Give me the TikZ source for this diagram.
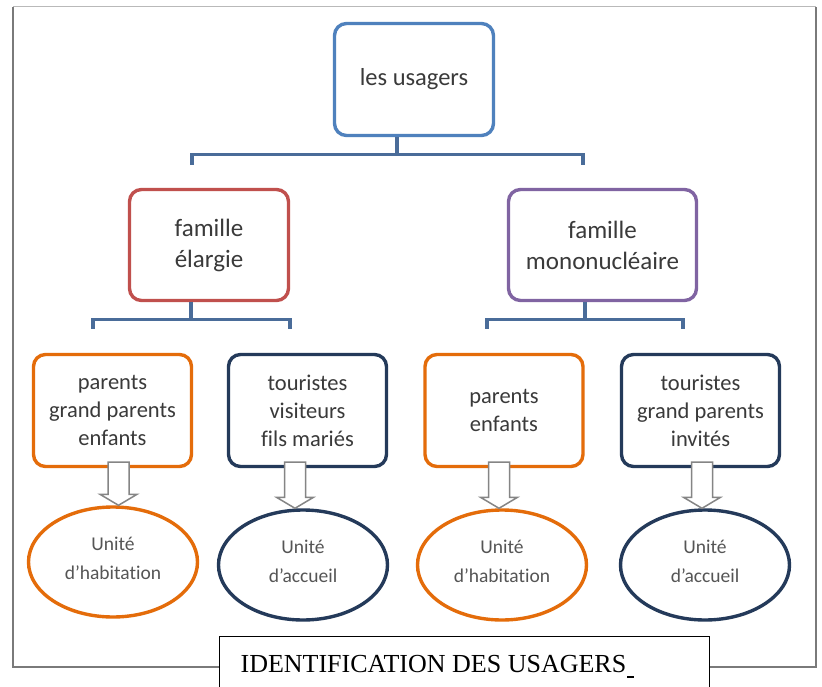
\documentclass[tikz,border=0pt]{standalone}
\usepackage{fontspec}
\setmainfont{Liberation Serif}
\newfontfamily\boxfont[Ligatures=NoCommon]{Carlito}
\usetikzlibrary{calc,shapes.geometric}

\definecolor{rootblue}{HTML}{4F81BD}
\definecolor{famred}{HTML}{C0504D}
\definecolor{fampurple}{HTML}{8064A2}
\definecolor{grporange}{HTML}{E46C0A}
\definecolor{grpnavy}{HTML}{243A5A}
\definecolor{linkblue}{HTML}{4A6C99}
\definecolor{boxtext}{HTML}{3A3A3A}
\definecolor{unittext}{HTML}{555555}
\definecolor{arrowgray}{HTML}{858585}
\definecolor{framegray}{HTML}{7A7A7A}

\tikzset{
  card/.style={draw, line width=3.4pt, rounded corners=12pt, fill=white,
    text=boxtext, align=center, inner sep=0pt},
  lvlone/.style={card, font=\boxfont\fontsize{24.5}{30}\selectfont},
  lvltwo/.style={card, font=\boxfont\fontsize{25}{31}\selectfont,
    minimum height=111pt},
  lvlthree/.style={card, font=\boxfont\fontsize{22.5}{28}\selectfont,
    minimum width=158pt, minimum height=112pt},
  unit/.style={ellipse, draw, line width=3.4pt, fill=white, text=unittext,
    align=center, inner sep=0pt, font=\boxfont\fontsize{19.5}{29.5}\selectfont,
    minimum width=169pt, minimum height=110pt},
  link/.style={draw=linkblue, line width=3.3pt},
  barrow/.style={draw=arrowgray, fill=white, line width=1.5pt, line join=miter},
  captionbox/.style={draw=black, line width=1.2pt, fill=white, anchor=north west,
    inner xsep=21pt, inner ysep=0pt, text height=36pt, text depth=24pt,
    font=\fontsize{26}{30}\selectfont}
}

% hollow block arrow from a box down to its unit ellipse
% #1 source node, #2 target node, #3 horizontal offset of the arrow axis
\newcommand\unitarrow[3]{%
  \path[barrow] let \p1=($(#1.south)+(#3,0)$), \p2=(#2.north) in
    (\x1-10.5pt,\y1+6pt) -- (\x1+10.5pt,\y1+6pt) -- (\x1+10.5pt,\y2+11pt)
    -- (\x1+18.5pt,\y2+11pt) -- (\x1,\y2) -- (\x1-18.5pt,\y2+11pt)
    -- (\x1-10.5pt,\y2+11pt) -- cycle;}

\begin{document}
\begin{tikzpicture}[x=1pt,y=-1pt]
\useasboundingbox (0,0) rectangle (822,687);
\clip (0,0) rectangle (822,687);
\fill[white] (0,0) rectangle (822,687);

% outer frame
\draw[gray!55, line width=1pt] (13,7) -- (816,7);
\draw[framegray, line width=2.2pt] (13,7) -- (13,667) -- (816,667) -- (816,7);

% hierarchy boxes
\node[lvlone, draw=rootblue, minimum width=159pt, minimum height=112pt]
  (root) at (414,79.5) {les usagers};
\node[lvltwo, draw=famred, minimum width=159pt] (fe) at (209,245) {famille\\élargie};
\node[lvltwo, draw=fampurple, minimum width=188pt] (fm) at (602.5,245) {famille\\mononucléaire};

\node[lvlthree, draw=grporange] (b1) at (112.5,410.5) {parents\\grand parents\\enfants};
\node[lvlthree, draw=grpnavy]   (b2) at (307.5,410.5) {touristes\\visiteurs\\fils mariés};
\node[lvlthree, draw=grporange] (b3) at (504,410.5)   {parents\\enfants};
\node[lvlthree, draw=grpnavy]   (b4) at (700.5,410.5) {touristes\\grand parents\\invités};

% unit ellipses
\node[unit, draw=grporange] (e1) at (113,562) {Unité\\d’habitation\\[-22pt]};
\node[unit, draw=grpnavy]   (e2) at (303,565) {Unité\\d’accueil\\[-22pt]};
\node[unit, draw=grporange] (e3) at (502,565) {Unité\\d’habitation\\[-22pt]};
\node[unit, draw=grpnavy]   (e4) at (705,565) {Unité\\d’accueil\\[-22pt]};

% tree connectors
\draw[link] ($(root.south)+(-17,0)$) -- ($(root.south)+(-17,17.5)$);
\draw[link] ($(fe.north)+(-17,-23)$) |- ($(root.south)+(-17,17.5)$)
  -| ($(fm.north)+(-19.5,-23)$);

\draw[link] ($(fe.south)+(-18,0)$) -- ($(fe.south)+(-18,17.5)$);
\draw[link] ($(b1.north)+(-19.5,-24)$) |- ($(fe.south)+(-18,17.5)$)
  -| ($(b2.north)+(-17.5,-24)$);

\draw[link] ($(fm.south)+(-17.5,0)$) -- ($(fm.south)+(-17.5,17.5)$);
\draw[link] ($(b3.north)+(-17,-24)$) |- ($(fm.south)+(-17.5,17.5)$)
  -| ($(b4.north)+(-17.5,-24)$);

% arrows from groups to units
\unitarrow{b1}{e1}{6}
\unitarrow{b2}{e2}{-12.5}
\unitarrow{b3}{e3}{-5}
\unitarrow{b4}{e4}{1.5}

% caption
\node[captionbox] (caption) at (219,636)
  {\makebox[448pt][l]{IDENTIFICATION DES USAGERS\kern1pt\rule[-5pt]{7pt}{1.8pt}}};
\end{tikzpicture}
\end{document}
